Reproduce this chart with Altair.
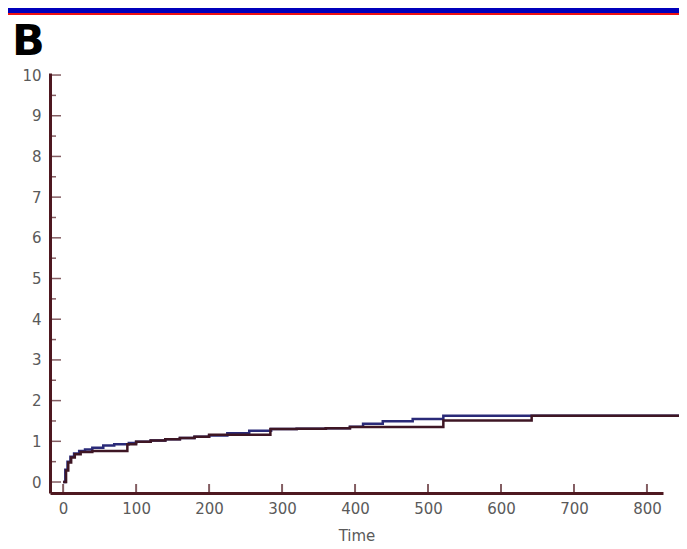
import altair as alt
import pandas as pd

# Series A (upper, navy) step function
a_time = [0, 3, 6, 10, 15, 22, 30, 40, 55, 70, 90, 100, 120, 140, 160, 180, 200, 225, 255, 285, 320, 360, 393, 411, 438, 479, 521, 852]
a_val = [0, 0.30, 0.50, 0.62, 0.70, 0.76, 0.80, 0.84, 0.90, 0.93, 0.96, 0.99, 1.02, 1.05, 1.08, 1.11, 1.14, 1.20, 1.26, 1.30, 1.31, 1.32, 1.36, 1.43, 1.49, 1.55, 1.63, 1.63]

# Series B (lower, dark maroon) step function
b_time = [0, 4, 7, 11, 16, 24, 40, 88, 100, 120, 140, 160, 180, 200, 284, 320, 360, 393, 521, 642, 852]
b_val = [0, 0.28, 0.48, 0.60, 0.68, 0.74, 0.76, 0.93, 0.99, 1.02, 1.05, 1.08, 1.11, 1.16, 1.30, 1.31, 1.32, 1.35, 1.51, 1.63, 1.63]

x_ticks = [0, 100, 200, 300, 400, 500, 600, 700, 800]
y_major = [0, 1, 2, 3, 4, 5, 6, 7, 8, 9, 10]
y_minor = [0.5, 1.5, 2.5, 3.5, 4.5, 5.5, 6.5, 7.5, 8.5, 9.5]

FONT = "DejaVu Sans"
AXIS_COLOR = "#4e1820"
LABEL_COLOR = "#5a5a5a"

df = pd.concat([
    pd.DataFrame({"Time": a_time, "H": a_val, "s": "A"}),
    pd.DataFrame({"Time": b_time, "H": b_val, "s": "B"}),
])

xs = alt.Scale(domain=[-18, 822], nice=False, zero=False)
ys = alt.Scale(domain=[-0.27, 10.05], nice=False, zero=False)

lines = alt.Chart(df).mark_line(interpolate="step-after", strokeWidth=2.5, clip=False).encode(
    x=alt.X("Time:Q", scale=xs, axis=alt.Axis(
        values=x_ticks, ticks=False, grid=False, domainColor=AXIS_COLOR, domainWidth=3,
        labelFont=FONT, labelFontSize=15, labelColor=LABEL_COLOR, labelPadding=8,
        title="Time", titleFont=FONT, titleFontSize=15, titleFontWeight="normal",
        titleColor=LABEL_COLOR, titlePadding=12)),
    y=alt.Y("H:Q", scale=ys, axis=alt.Axis(
        values=y_major, ticks=False, grid=False, domainColor=AXIS_COLOR, domainWidth=3,
        labelFont=FONT, labelFontSize=15, labelColor=LABEL_COLOR, labelPadding=9,
        title=None)),
    color=alt.Color("s:N", scale=alt.Scale(domain=["A", "B"], range=["#2a2a78", "#3e1624"]), legend=None),
    detail="s:N",
)

xt = alt.Chart(pd.DataFrame({"t": x_ticks})).mark_tick(
    orient="vertical", size=9, thickness=2, color=AXIS_COLOR).encode(
    x=alt.X("t:Q", scale=xs), y=alt.value(415.5))

ytm = alt.Chart(pd.DataFrame({"v": y_major})).mark_tick(
    orient="horizontal", size=11, thickness=1.5, color=AXIS_COLOR).encode(
    y=alt.Y("v:Q", scale=ys), x=alt.value(5.5))

ytn = alt.Chart(pd.DataFrame({"v": y_minor})).mark_tick(
    orient="horizontal", size=7, thickness=1.5, color=AXIS_COLOR).encode(
    y=alt.Y("v:Q", scale=ys), x=alt.value(2.5))

banner_blue = alt.Chart(pd.DataFrame({"k": [0]})).mark_rect(color="#0000bb", clip=False).encode(
    x=alt.value(-42), x2=alt.value(640), y=alt.value(-65), y2=alt.value(-60))
banner_red = alt.Chart(pd.DataFrame({"k": [0]})).mark_rect(color="#ee1111", clip=False).encode(
    x=alt.value(-42), x2=alt.value(640), y=alt.value(-60), y2=alt.value(-58))

label_b = alt.Chart(pd.DataFrame({"k": ["B"]})).mark_text(
    font=FONT, fontSize=43, fontWeight="bold", align="left", baseline="alphabetic",
    color="#000000").encode(text="k:N", x=alt.value(-38), y=alt.value(-18))

chart = alt.layer(lines, xt, ytm, ytn, banner_blue, banner_red, label_b).properties(
    width=613, height=420,
    autosize=alt.AutoSizeParams(type="none"),
    padding={"left": 42, "top": 65, "right": 16, "bottom": 50},
).configure_view(stroke=None)

chart.save("out.html", embed_options={"renderer": "svg", "actions": False})
